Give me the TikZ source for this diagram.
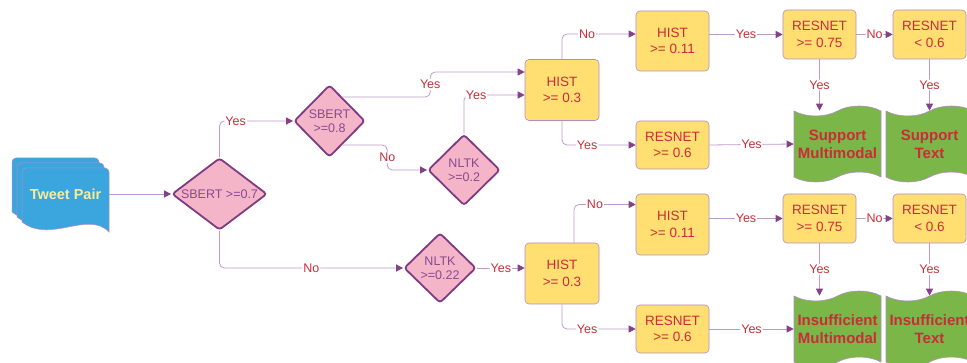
\documentclass[tikz,border=0pt]{standalone}
\usepackage{fontspec}
\setmainfont{Liberation Sans}
\usepackage{xcolor}
\usetikzlibrary{arrows.meta,shapes.geometric,shapes.symbols,calc}
\definecolor{pinkfill}{HTML}{F4B5C8}
\definecolor{diamondline}{HTML}{7E3A82}
\definecolor{diamondtext}{HTML}{8A4890}
\definecolor{boxfill}{HTML}{FFDF71}
\definecolor{boxline}{HTML}{B48CC2}
\definecolor{resultfill}{HTML}{7AB648}
\definecolor{labelred}{HTML}{C92D39}
\definecolor{linecol}{HTML}{BE9ACB}
\definecolor{tipcol}{HTML}{834187}
\definecolor{tweetblue}{HTML}{3AA6DD}
\definecolor{tweettext}{HTML}{F8EC9A}

\begin{document}
\begin{tikzpicture}[x=1pt, y=-1pt,
  decision/.style={diamond, draw=diamondline, line width=1.8pt, fill=pinkfill, rounded corners=3pt, inner sep=0pt, text=diamondtext, align=center, font=\fontsize{12.5}{14}\selectfont},
  test/.style={rectangle, draw=boxline, line width=0.6pt, fill=boxfill, rounded corners=4pt, minimum width=73pt, minimum height=49pt, text=labelred, align=center, font=\fontsize{13.5}{16.7}\selectfont},
  result/.style={tape, tape bend height=10pt, draw=boxline, line width=0.6pt, fill=resultfill, minimum width=87pt, minimum height=76pt, inner sep=0pt, text=labelred, align=center, font=\bfseries\fontsize{15}{18}\selectfont},
  conn/.style={draw=linecol, line width=0.8pt, rounded corners=5pt, -{Triangle[length=7pt,width=7pt,color=tipcol]}},
  lbl/.style={fill=white, text=labelred, inner sep=1pt, font=\fontsize{12.5}{14}\selectfont}]
\clip (0,0) rectangle (967,363);

% stacked tweet documents
\foreach \d in {10,5,0}
  \path[fill=tweetblue, draw=boxline, line width=0.5pt, shift={(-\d,-\d)}]
    (22,222) [rounded corners=4pt] -- (22,168) -- (109,168) [sharp corners] -- (109,232)
    .. controls (88,210) and (50,244) .. (22,222) -- cycle;
\node (tweet) [minimum width=87pt, inner sep=0pt, text=tweettext, font=\bfseries\fontsize{14.5}{17}\selectfont] at (65.5,194) {Tweet Pair};

\node (sbert07) [decision, minimum width=95pt, minimum height=72pt, aspect=1.3] at (219.5,194) {SBERT >=0.7};
\node (sbert08) [decision, minimum width=71pt, minimum height=72pt] at (329.5,121) {SBERT\\>=0.8};
\node (nltk02) [decision, minimum width=72pt, minimum height=71pt] at (464,170) {NLTK\\>=0.2};
\node (nltk022) [decision, minimum width=72pt, minimum height=70pt] at (440,268) {NLTK\\>=0.22};

\node (hist03a) [test, minimum width=74pt, minimum height=61pt] at (562,90) {HIST\\>= 0.3};
\node (hist011a) [test, minimum height=60pt] at (672.5,41) {HIST\\>= 0.11};
\node (resnet06a) [test, minimum height=48pt] at (672.5,145) {RESNET\\>= 0.6};
\node (resnet075a) [test] at (819.5,34.5) {RESNET\\>= 0.75};
\node (resnetlt06a) [test] at (929.5,34.5) {RESNET\\< 0.6};
\node (supmm) [result] at (837.5,144) {Support\\Multimodal};
\node (suptext) [result] at (929.5,144) {Support\\Text};

\node (hist03b) [test, minimum width=74pt, minimum height=61pt] at (562,273.5) {HIST\\>= 0.3};
\node (hist011b) [test, minimum height=61pt] at (672.5,224.5) {HIST\\>= 0.11};
\node (resnet06b) [test, minimum height=48pt] at (672.5,329) {RESNET\\>= 0.6};
\node (resnet075b) [test] at (819.5,218.5) {RESNET\\>= 0.75};
\node (resnetlt06b) [test] at (929.5,218.5) {RESNET\\< 0.6};
\node (insmm) [result] at (837.5,329) {Insufficient\\Multimodal};
\node (instext) [result] at (929.5,329) {Insufficient\\Text};

\draw[conn] (tweet.east) -- (sbert07.west);
\draw[conn] (sbert07.north) |- node[lbl, pos=0.61] {Yes} (sbert08.west);
\draw[conn] (sbert07.south) |- node[lbl, pos=0.75] {No} (nltk022.west);
\draw[conn] ($(sbert08.east)!0.65!(sbert08.north)$) -- ++(88,0) |- node[lbl, pos=0.25] {Yes} ([yshift=18pt]hist03a.west);
\draw[conn] (nltk02.north) |- node[lbl, pos=0.6] {Yes} ([yshift=-5pt]hist03a.west);
\draw[conn] ($(sbert08.east)!0.65!(sbert08.south)$) -- ++(45,0) |- node[lbl, pos=0.25] {No} (nltk02.west);
\draw[conn] (nltk022.east) -- node[lbl] {Yes} (nltk022.east -| hist03b.west);

\draw[conn] (hist03a.north) |- node[lbl, pos=0.67] {No} ([yshift=7pt]hist011a.west);
\draw[conn] (hist03a.south) |- node[lbl, pos=0.67] {Yes} (resnet06a.west);
\draw[conn] (resnet075a.west -| hist011a.east) -- node[lbl] {Yes} (resnet075a.west);
\draw[conn] (resnet06a.east) -- node[lbl] {Yes} (supmm.west);
\draw[conn] (resnet075a.east) -- node[lbl] {No} (resnetlt06a.west);
\draw[conn] (resnet075a.south) -- node[lbl] {Yes} (resnet075a.south |- supmm.north);
\draw[conn] (resnetlt06a.south) -- node[lbl] {Yes} (suptext.north);

\draw[conn] ([xshift=12pt]hist03b.north) |- node[lbl, pos=0.67] {No} ([yshift=20pt]hist011b.west);
\draw[conn] (hist03b.south) |- node[lbl, pos=0.67] {Yes} (resnet06b.west);
\draw[conn] (resnet075b.west -| hist011b.east) -- node[lbl] {Yes} (resnet075b.west);
\draw[conn] (resnet06b.east) -- node[lbl] {Yes} (insmm.west);
\draw[conn] (resnet075b.east) -- node[lbl] {No} (resnetlt06b.west);
\draw[conn] (resnet075b.south) -- node[lbl] {Yes} (resnet075b.south |- insmm.north);
\draw[conn] (resnetlt06b.south) -- node[lbl] {Yes} (instext.north);
\end{tikzpicture}
\end{document}
